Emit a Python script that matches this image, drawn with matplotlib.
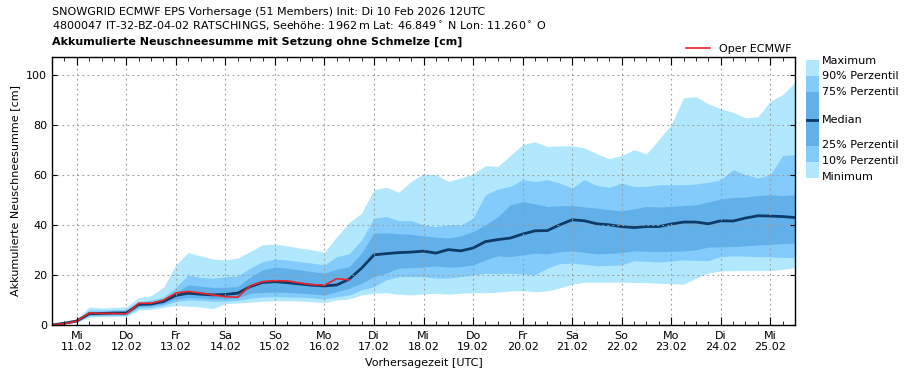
import numpy as np
import matplotlib.pyplot as plt
from matplotlib.patches import Rectangle
from matplotlib.ticker import MultipleLocator, FixedLocator

# 6-hourly steps from 10 Feb 2026 12UTC (in days)
steps = np.arange(61) * 0.25

p_max = [0, 1.0, 2.4, 7.2, 6.8, 7.0, 7.3, 10.9, 11.7, 15.0, 24.0, 28.9, 27.6, 26.3, 26.0, 26.7,
         29.3, 32.0, 32.3, 31.6, 30.7, 30.0, 29.1, 35.3, 40.9, 44.7, 54.0, 55.0, 53.0, 57.3, 60.3,
         60.0, 57.3, 58.7, 60.3, 63.6, 63.3, 67.6, 72.0, 73.1, 71.3, 71.5, 71.6, 70.7, 68.4, 66.4,
         67.7, 70.0, 68.3, 74.0, 80.0, 90.7, 91.1, 88.3, 86.3, 84.9, 82.7, 83.1, 89.3, 92.0, 96.9]
p90 = [0, 0.9, 2.0, 6.0, 6.0, 6.1, 6.2, 9.3, 10.0, 11.2, 15.0, 20.0, 19.0, 18.7, 19.3, 19.6,
       22.7, 25.3, 26.3, 26.0, 25.3, 24.7, 24.0, 27.3, 28.4, 34.0, 42.7, 43.3, 41.7, 41.7, 40.0,
       39.3, 40.0, 39.9, 42.7, 52.0, 54.3, 55.3, 58.0, 57.3, 58.0, 56.7, 54.7, 58.0, 55.7, 55.0,
       56.7, 55.3, 55.3, 56.0, 56.0, 56.0, 56.3, 57.0, 58.0, 62.0, 60.0, 58.7, 60.0, 67.6, 68.0]
p75 = [0, 0.8, 1.8, 5.3, 5.3, 5.4, 5.5, 8.8, 9.0, 10.3, 13.0, 16.0, 15.5, 15.0, 15.1, 15.3,
       19.1, 22.0, 23.1, 22.7, 22.0, 21.3, 20.7, 22.3, 23.3, 28.7, 36.7, 36.8, 36.4, 36.2, 35.6,
       35.1, 34.7, 35.6, 37.3, 40.0, 43.1, 48.0, 49.3, 48.4, 47.3, 47.6, 47.7, 47.1, 46.7, 46.0,
       45.6, 46.4, 47.3, 47.1, 47.3, 47.7, 48.0, 49.1, 50.3, 50.9, 51.1, 51.7, 52.0, 51.7, 52.0]
median = [0, 0.7, 1.6, 4.5, 4.6, 4.8, 4.8, 8.2, 8.4, 9.4, 11.8, 12.7, 12.3, 12.0, 12.2, 12.7,
          15.3, 17.0, 17.3, 16.9, 16.4, 15.9, 15.6, 16.0, 18.3, 22.7, 28.0, 28.5, 28.9, 29.1, 29.5,
          28.7, 30.1, 29.6, 30.7, 33.3, 34.1, 34.7, 36.3, 37.6, 37.7, 40.0, 42.0, 41.6, 40.4, 40.0,
          39.3, 38.9, 39.3, 39.3, 40.3, 41.1, 41.1, 40.4, 41.6, 41.5, 42.7, 43.6, 43.5, 43.3, 42.9]
p25 = [0, 0.6, 1.4, 4.0, 4.1, 4.2, 4.2, 7.4, 7.6, 8.5, 10.4, 11.0, 10.8, 10.5, 10.4, 10.8,
       12.7, 13.0, 13.1, 13.0, 12.7, 12.4, 12.0, 13.3, 14.7, 16.7, 19.3, 20.8, 22.7, 22.9, 23.1,
       23.6, 23.1, 23.3, 24.0, 26.0, 27.6, 27.3, 28.0, 28.7, 28.4, 29.3, 29.6, 29.0, 28.4, 28.6,
       28.9, 29.6, 29.4, 29.3, 29.4, 29.6, 30.0, 31.1, 31.2, 31.3, 31.6, 32.0, 32.2, 32.5, 32.7]
p10 = [0, 0.5, 1.2, 3.6, 3.7, 3.8, 3.8, 6.8, 7.0, 7.9, 9.4, 10.0, 9.8, 9.5, 9.5, 9.8,
       10.7, 11.2, 11.3, 11.2, 11.1, 10.8, 10.4, 11.3, 12.0, 14.0, 15.3, 18.0, 19.3, 19.3, 19.3,
       18.7, 18.7, 19.3, 20.0, 20.7, 20.4, 20.7, 20.4, 20.0, 22.7, 24.5, 24.7, 24.2, 23.6, 23.8,
       24.0, 25.7, 25.4, 25.1, 25.5, 26.0, 25.8, 25.7, 27.3, 27.6, 27.5, 27.3, 27.2, 27.0, 26.9]
p_min = [0, 0.4, 1.0, 3.2, 3.3, 3.4, 3.4, 6.0, 6.2, 7.0, 7.8, 7.5, 7.2, 6.6, 8.5, 8.8,
         9.1, 9.5, 9.7, 9.7, 9.6, 9.3, 8.9, 10.0, 10.4, 12.0, 12.7, 12.8, 12.3, 12.0, 12.4,
         12.7, 12.3, 12.7, 12.9, 12.9, 13.1, 13.6, 13.7, 13.3, 13.6, 14.8, 16.3, 17.1, 17.1, 17.1,
         17.1, 17.0, 16.9, 16.7, 16.5, 16.3, 18.7, 20.7, 21.6, 21.7, 21.7, 21.7, 21.7, 22.2, 22.9]
# deterministic run only up to +144h
oper = [0, 0.5, 1.5, 4.8, 4.6, 4.6, 4.4, 8.7, 8.7, 9.9, 12.8, 13.4, 12.8, 12.0, 11.3, 11.1,
        15.6, 17.3, 17.7, 17.6, 16.8, 16.1, 15.9, 18.5, 18.0]

weekdays = ["Mi", "Do", "Fr", "Sa", "So", "Mo", "Di", "Mi", "Do", "Fr", "Sa", "So", "Mo", "Di", "Mi"]
dates = ["11.02", "12.02", "13.02", "14.02", "15.02", "16.02", "17.02", "18.02",
         "19.02", "20.02", "21.02", "22.02", "23.02", "24.02", "25.02"]

c_light = "#b1e8fd"
c_mid = "#83cbfa"
c_dark = "#62b0ea"
c_med = "#0d3a66"
c_oper = "#e8262a"

plt.rcParams['font.family'] = ['DejaVu Sans']
plt.rcParams['font.size'] = 8

fig = plt.figure(figsize=(9.09, 3.8), dpi=100)
ax = fig.add_axes([52 / 909, 55 / 380, 743 / 909, 268 / 380])

ax.fill_between(steps, p_min, p_max, color=c_light, lw=0)
ax.fill_between(steps, p10, p90, color=c_mid, lw=0)
ax.fill_between(steps, p25, p75, color=c_dark, lw=0)
ax.plot(steps, median, color=c_med, lw=2)
oper_line, = ax.plot(steps[:len(oper)], oper, color=c_oper, lw=1.2, label="Oper ECMWF")

ax.set_xlim(0, 15)
ax.set_ylim(0, 107)
ax.yaxis.set_major_locator(MultipleLocator(20))
day_ticks = np.arange(len(dates)) + 0.5
ax.xaxis.set_major_locator(FixedLocator(day_ticks))
ax.set_xticklabels([w + "\n" + d for w, d in zip(weekdays, dates)])
ax.xaxis.set_minor_locator(MultipleLocator(0.25))
ax.tick_params(axis='both', which='both', direction='in', top=True, right=True, labelsize=8)
ax.tick_params(axis='x', which='major', length=6, pad=4)
ax.tick_params(axis='x', which='minor', length=3)
ax.grid(True, which='major', linestyle=(0, (1.5, 3)), color='#9a9a9a', lw=0.8)
ax.set_axisbelow(False)
for sp in ax.spines.values():
    sp.set_linewidth(1)

ax.set_ylabel("Akkumulierte Neuschneesumme [cm]", fontsize=8)
ax.set_xlabel("Vorhersagezeit [UTC]", fontsize=8)

ax.legend(handles=[oper_line], loc='lower right', bbox_to_anchor=(1.0, 1.0), frameon=False,
          fontsize=8, handlelength=2.2, borderaxespad=0.1, borderpad=0.2)

fig.text(52 / 909, 1 - 12 / 380, "SNOWGRID ECMWF EPS Vorhersage (51 Members) Init: Di 10 Feb 2026 12UTC",
         fontsize=8, va='center')
fig.text(52 / 909, 1 - 26 / 380,
         r"4800047 IT-32-BZ-04-02 RATSCHINGS, Seehöhe: 1962$\,$m Lat: 46.849$^\circ$ N Lon: 11.260$^\circ$ O",
         fontsize=8, va='center')
fig.text(52 / 909, 1 - 42 / 380, "Akkumulierte Neuschneesumme mit Setzung ohne Schmelze [cm]",
         fontsize=8, fontweight='bold', va='center')

# right-hand band legend
leg = fig.add_axes([806 / 909, 1 - 178 / 380, 13 / 909, 118 / 380])
leg.set_xlim(0, 1)
leg.set_ylim(178, 60)
leg.axis('off')
segs = [(60, 76, c_light), (76, 92, c_mid), (92, 146, c_dark), (146, 162, c_mid), (162, 178, c_light)]
for y0, y1, c in segs:
    leg.add_patch(Rectangle((0, y0), 1, y1 - y0, color=c, lw=0))
leg.plot([0, 1], [119.5, 119.5], color=c_med, lw=2)
labels = [("Maximum", 61), ("90% Perzentil", 76), ("75% Perzentil", 92), ("Median", 120),
          ("25% Perzentil", 145), ("10% Perzentil", 161), ("Minimum", 177)]
for txt, yp in labels:
    fig.text(822 / 909, 1 - yp / 380, txt, fontsize=8, va='center')

fig.savefig("out.png", dpi=100)
